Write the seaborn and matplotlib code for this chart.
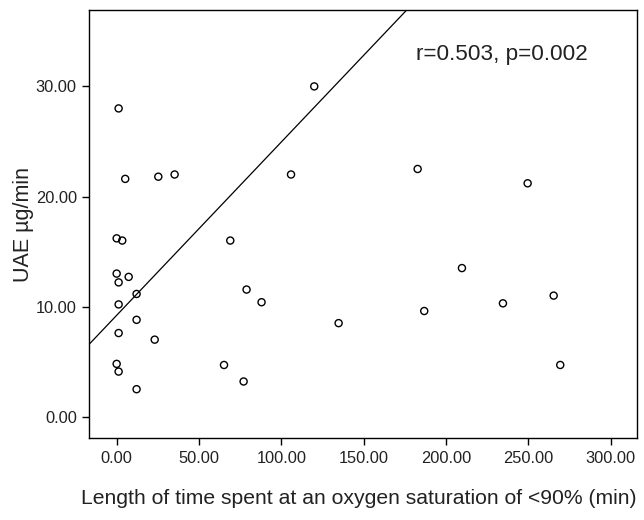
import numpy as np
import pandas as pd
import matplotlib
matplotlib.use("Agg")
import matplotlib.pyplot as plt
import seaborn as sns

# time spent at SpO2 < 90% (min) vs UAE (µg/min)
time_below_90 = [120, 1.2, 5.2, 25.3, 35.2, 105.9, 0, 3.4, 69.0,
                 0, 1.2, 7.3, 12.1, 1.2, 12.1, 1.2, 23.1, 0, 1.2, 12.1,
                 78.9, 88.0, 65.2, 77.1,
                 182.8, 249.6,
                 209.7, 134.8, 186.8, 234.6, 265.4, 269.4]
uae = [30.0, 28.0, 21.6, 21.8, 22.0, 22.0, 16.2, 16.0, 16.0,
       13.0, 12.2, 12.7, 11.15, 10.2, 8.8, 7.6, 7.0, 4.8, 4.1, 2.5,
       11.55, 10.4, 4.7, 3.2,
       22.5, 21.2,
       13.5, 8.5, 9.6, 10.3, 11.0, 4.7]

# fitted line shown on the chart
fit_intercept = 9.21
fit_slope = 0.1574

x_ticks = [0, 50, 100, 150, 200, 250, 300]
y_ticks = [0, 10, 20, 30]

df = pd.DataFrame({"time": time_below_90, "uae": uae})

sns.set_style("white")
plt.rcParams["font.family"] = ["Liberation Sans", "DejaVu Sans"]

fig = plt.figure(figsize=(6.44, 5.2), dpi=100)
ax = fig.add_axes([0.1387, 0.1571, 0.8509, 0.8237])

sns.scatterplot(data=df, x="time", y="uae", ax=ax, marker="o", s=26,
                facecolor="none", edgecolor="black", linewidth=1.0)
ax.axline((0, fit_intercept), slope=fit_slope, color="black", linewidth=0.9)

ax.set_xlim(-16.6, 316.2)
ax.set_ylim(-1.96, 36.94)
ax.set_xticks(x_ticks)
ax.set_xticklabels([f"{v:.2f}" for v in x_ticks])
ax.set_yticks(y_ticks)
ax.set_yticklabels([f"{v:.2f}" for v in y_ticks])
ax.tick_params(axis="both", direction="out", length=5, width=1, color="black",
               labelsize=11.8, labelcolor="#222222", bottom=True, left=True, pad=4)

for side in ["left", "bottom", "top", "right"]:
    ax.spines[side].set_visible(True)
    ax.spines[side].set_color("black")
    ax.spines[side].set_linewidth(1.0)

ax.set_xlabel("")
ax.set_ylabel("UAE µg/min", fontsize=15.5, color="#222222", labelpad=1.5)
fig.text(0.557, 0.042, "Length of time spent at an oxygen saturation of <90% (min)",
         ha="center", va="center", fontsize=15.2, color="#222222")

ax.text(0.753, 0.895, "r=0.503, p=0.002", transform=ax.transAxes,
        ha="center", va="center", fontsize=16.2, color="#222222")

fig.savefig("out.png", dpi=100)
